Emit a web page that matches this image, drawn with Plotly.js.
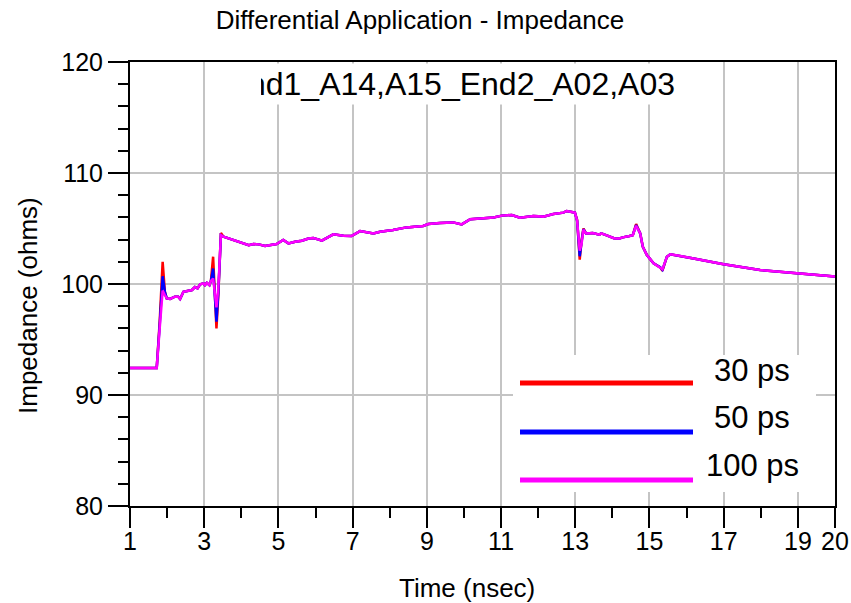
<!DOCTYPE html>
<html>
<head>
<meta charset="utf-8">
<script src="https://cdn.plot.ly/plotly-3.0.1.min.js"></script>
<style>
  html, body { margin: 0; padding: 0; background: #ffffff; }
  #chart { width: 851px; height: 603px; }
</style>
</head>
<body>
<div id="chart"></div>
<script>
// Differential TDR impedance profile (ohms) versus time (nsec) for three rise times.
const timeNs = [
  1.00, 1.72, 1.80, 1.88, 1.94, 1.99, 2.08, 2.21, 2.30, 2.35,
  2.44, 2.57, 2.67, 2.75, 2.82, 2.89, 2.98, 3.02, 3.07, 3.14,
  3.18, 3.24, 3.28, 3.33, 3.38, 3.45, 3.52, 3.66, 3.84, 4.02,
  4.20, 4.33, 4.47, 4.64, 4.77, 4.95, 5.13, 5.27, 5.45, 5.63,
  5.81, 5.94, 6.09, 6.17, 6.48, 6.75, 6.97, 7.20, 7.56, 7.74,
  8.09, 8.45, 8.90, 9.04, 9.35, 9.71, 9.94, 10.17, 10.53, 10.80,
  11.02, 11.29, 11.51, 11.87, 12.14, 12.41, 12.68, 12.77, 12.94, 12.99,
  13.05, 13.12, 13.17, 13.22, 13.29, 13.47, 13.65, 13.70, 13.83, 14.06,
  14.19, 14.28, 14.46, 14.55, 14.64, 14.75, 14.82, 14.93, 15.11, 15.29,
  15.35, 15.47, 15.56, 15.80, 16.19, 17.00, 17.98, 18.97, 20.00
];

const z30ps = [
  92.43, 92.43, 96.6, 102.0, 99.3, 98.7, 98.65, 98.86, 98.86, 98.65,
  99.3, 99.4, 99.46, 99.73, 99.6, 99.97, 100.06, 99.9, 100.1, 99.9,
  100.27, 102.46, 99.0, 96.0, 99.0, 104.6, 104.26, 104.1, 103.9, 103.7,
  103.5, 103.6, 103.57, 103.42, 103.5, 103.6, 103.96, 103.66, 103.8, 103.9,
  104.1, 104.15, 104.0, 103.9, 104.47, 104.35, 104.32, 104.77, 104.56, 104.7,
  104.86, 105.1, 105.23, 105.4, 105.5, 105.55, 105.37, 105.83, 105.92, 106.0,
  106.16, 106.22, 105.98, 106.13, 106.07, 106.3, 106.43, 106.58, 106.46, 106.43,
  105.8, 102.2, 103.9, 105.0, 104.56, 104.6, 104.45, 104.56, 104.4, 104.1,
  104.1, 104.2, 104.32, 104.4, 105.4, 104.56, 103.36, 102.6, 101.86, 101.5,
  101.2, 102.46, 102.67, 102.55, 102.3, 101.77, 101.26, 100.96, 100.68
];

const z50ps = [
  92.43, 92.43, 96.3, 100.7, 99.3, 98.7, 98.65, 98.86, 98.86, 98.65,
  99.3, 99.4, 99.46, 99.73, 99.6, 99.97, 100.06, 99.9, 100.1, 99.9,
  100.27, 101.4, 99.0, 96.6, 99.2, 104.4, 104.26, 104.1, 103.9, 103.7,
  103.5, 103.6, 103.57, 103.42, 103.5, 103.6, 103.96, 103.66, 103.8, 103.9,
  104.1, 104.15, 104.0, 103.9, 104.47, 104.35, 104.32, 104.77, 104.56, 104.7,
  104.86, 105.1, 105.23, 105.4, 105.5, 105.55, 105.37, 105.83, 105.92, 106.0,
  106.16, 106.22, 105.98, 106.13, 106.07, 106.3, 106.43, 106.58, 106.46, 106.43,
  105.7, 102.5, 103.8, 104.95, 104.56, 104.6, 104.45, 104.56, 104.4, 104.1,
  104.1, 104.2, 104.32, 104.4, 105.3, 104.56, 103.36, 102.6, 101.86, 101.5,
  101.28, 102.46, 102.67, 102.55, 102.3, 101.77, 101.26, 100.96, 100.68
];

const z100ps = [
  92.43, 92.43, 96.0, 99.4, 99.0, 98.7, 98.65, 98.86, 98.86, 98.65,
  99.3, 99.4, 99.46, 99.73, 99.6, 99.97, 100.06, 99.9, 100.1, 99.9,
  100.27, 100.5, 99.4, 97.9, 99.6, 104.4, 104.26, 104.1, 103.9, 103.7,
  103.5, 103.6, 103.57, 103.42, 103.5, 103.6, 103.96, 103.66, 103.8, 103.9,
  104.1, 104.15, 104.0, 103.9, 104.47, 104.35, 104.32, 104.77, 104.56, 104.7,
  104.86, 105.1, 105.23, 105.4, 105.5, 105.55, 105.37, 105.83, 105.92, 106.0,
  106.16, 106.22, 105.98, 106.13, 106.07, 106.3, 106.43, 106.58, 106.46, 106.43,
  105.7, 103.0, 103.6, 104.9, 104.56, 104.6, 104.45, 104.56, 104.4, 104.1,
  104.1, 104.2, 104.32, 104.4, 105.25, 104.56, 103.36, 102.6, 101.86, 101.5,
  101.32, 102.46, 102.67, 102.55, 102.3, 101.77, 101.26, 100.96, 100.68
];

const seriesNames = ['30 ps', '50 ps', '100 ps'];
const seriesColors = ['#ff0000', '#0000ff', '#ff00ff'];
const seriesValues = [z30ps, z50ps, z100ps];

const xTickVals = [1, 3, 5, 7, 9, 11, 13, 15, 17, 19, 20];
const xMinorVals = [2, 4, 6, 8, 10, 12, 14, 16, 18];
const yTickVals = [80, 90, 100, 110, 120];

const chartTitle = 'Differential Application - Impedance';
const netLabel = 'End1_A14,A15_End2_A02,A03';
const xTitle = 'Time (nsec)';
const yTitle = 'Impedance (ohms)';

const FONT = 'Liberation Sans, Arial, Helvetica, sans-serif';

// Plot-area geometry (pixels) used to place the in-plot legend, label box and axis titles.
const L = 130, R = 835, T = 62, B = 506;
const px = x => (x - L) / (R - L);
const py = y => (B - y) / (B - T);

const traces = seriesValues.map((vals, i) => ({
  type: 'scatter',
  mode: 'lines',
  name: seriesNames[i],
  x: timeNs,
  y: vals,
  line: { color: seriesColors[i], width: 2.5 },
  hoverinfo: 'x+y+name'
}));

// Hand-laid legend: long colour bars with the name to the right.
const legendRows = [383, 432, 480];
const legendTextRows = [370, 417, 465];
const shapes = [
  { type: 'rect', xref: 'paper', yref: 'paper', x0: px(513), x1: px(816), y0: py(492), y1: py(355),
    fillcolor: '#ffffff', line: { width: 0 }, layer: 'above' }
];
const annotations = [];
seriesNames.forEach((name, i) => {
  shapes.push({ type: 'line', xref: 'paper', yref: 'paper',
    x0: px(520), x1: px(693), y0: py(legendRows[i]), y1: py(legendRows[i]),
    line: { color: seriesColors[i], width: 5 }, layer: 'above' });
  annotations.push({ xref: 'paper', yref: 'paper', x: px(752), y: py(legendTextRows[i]),
    xanchor: 'center', yanchor: 'middle', showarrow: false, text: name,
    font: { family: FONT, size: 31, color: '#000' } });
});

// Net name box at the top of the plot; its fixed width clips the start of the text.
annotations.push({
  xref: 'paper', yref: 'paper', x: px(676), y: 1, xanchor: 'right', yanchor: 'top', yshift: -1,
  width: 414, height: 40, align: 'right', valign: 'middle', borderpad: 0,
  bgcolor: '#ffffff', showarrow: false, text: netLabel,
  font: { family: FONT, size: 32, color: '#000' }
});

// Axis titles, placed slightly off the axis centres.
annotations.push({
  xref: 'paper', yref: 'paper', x: px(467), y: py(588), xanchor: 'center', yanchor: 'middle',
  showarrow: false, text: xTitle, font: { family: FONT, size: 26, color: '#000' }
});
annotations.push({
  xref: 'paper', yref: 'paper', x: px(28), y: py(306), xanchor: 'center', yanchor: 'middle',
  textangle: -90, showarrow: false, text: yTitle, font: { family: FONT, size: 26, color: '#000' }
});

const axisCommon = {
  showline: true, linecolor: '#000', linewidth: 2, mirror: true,
  showgrid: true, gridcolor: '#c4c4c4', gridwidth: 1.5, zeroline: false,
  ticks: 'outside', tickcolor: '#000', tickwidth: 2,
  tickfont: { family: FONT, size: 25, color: '#000' }
};

const layout = {
  width: 851, height: 603,
  margin: { l: L, r: 851 - R, t: T, b: 603 - B, pad: 0 },
  paper_bgcolor: '#ffffff', plot_bgcolor: '#ffffff',
  font: { family: FONT, color: '#000' },
  showlegend: false,
  title: { text: chartTitle, font: { family: FONT, size: 26, color: '#000' },
    xref: 'container', yref: 'container', x: 420 / 851, xanchor: 'center', y: 1 - 20 / 603, yanchor: 'middle' },
  xaxis: Object.assign({}, axisCommon, {
    range: [1, 20], tickmode: 'array', tickvals: xTickVals, ticklen: 20, ticklabelstandoff: -8,
    minor: { tickmode: 'array', tickvals: xMinorVals, ticks: 'outside', ticklen: 10, tickwidth: 2, tickcolor: '#000', showgrid: false }
  }),
  yaxis: Object.assign({}, axisCommon, {
    range: [80, 120], tickmode: 'array', tickvals: yTickVals, ticklen: 20,
    minor: { tickmode: 'linear', tick0: 80, dtick: 2, ticks: 'outside', ticklen: 10, tickwidth: 2, tickcolor: '#000', showgrid: false }
  }),
  shapes: shapes,
  annotations: annotations
};

Plotly.newPlot('chart', traces, layout, { displayModeBar: false, staticPlot: false, responsive: false });
</script>
</body>
</html>
